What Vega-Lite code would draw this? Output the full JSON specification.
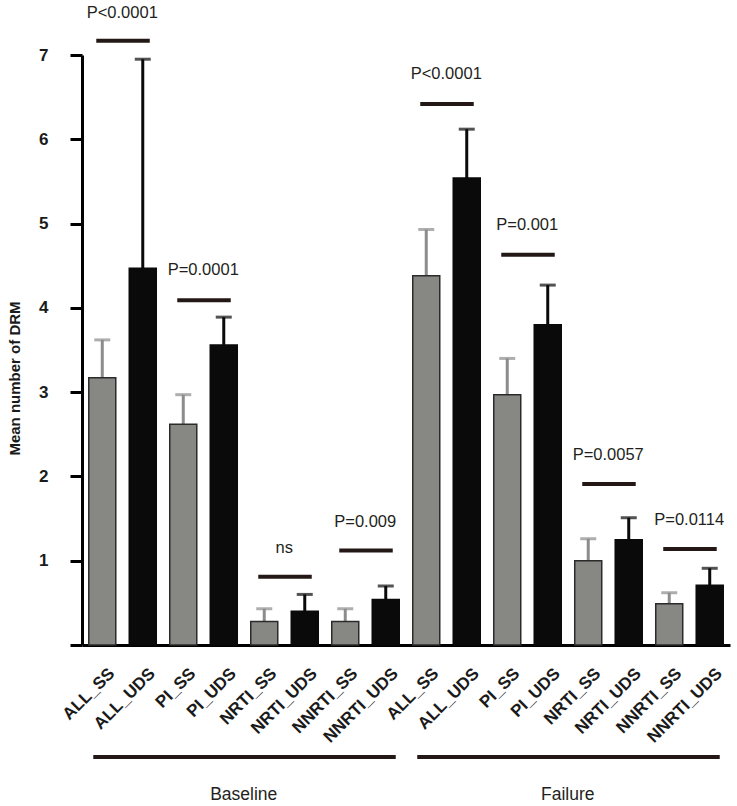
{
  "$schema": "https://vega.github.io/schema/vega-lite/v6.json",
  "width": 648,
  "height": 590,
  "autosize": {"type": "none"},
  "padding": {"left": 82, "top": 55, "right": 7, "bottom": 161},
  "background": "white",
  "config": {
    "view": {"stroke": null},
    "font": "Liberation Sans",
    "axis": {"grid": false}
  },
  "datasets": {
    "bars": [
      {"key": "B_ALL_SS", "period": "Baseline", "type": "SS", "mean": 3.17, "upper": 3.62},
      {"key": "B_ALL_UDS", "period": "Baseline", "type": "UDS", "mean": 4.47, "upper": 6.95},
      {"key": "B_PI_SS", "period": "Baseline", "type": "SS", "mean": 2.62, "upper": 2.97},
      {"key": "B_PI_UDS", "period": "Baseline", "type": "UDS", "mean": 3.56, "upper": 3.89},
      {"key": "B_NRTI_SS", "period": "Baseline", "type": "SS", "mean": 0.28, "upper": 0.43},
      {"key": "B_NRTI_UDS", "period": "Baseline", "type": "UDS", "mean": 0.40, "upper": 0.60},
      {"key": "B_NNRTI_SS", "period": "Baseline", "type": "SS", "mean": 0.28, "upper": 0.43},
      {"key": "B_NNRTI_UDS", "period": "Baseline", "type": "UDS", "mean": 0.54, "upper": 0.70},
      {"key": "F_ALL_SS", "period": "Failure", "type": "SS", "mean": 4.38, "upper": 4.93},
      {"key": "F_ALL_UDS", "period": "Failure", "type": "UDS", "mean": 5.54, "upper": 6.12},
      {"key": "F_PI_SS", "period": "Failure", "type": "SS", "mean": 2.97, "upper": 3.40},
      {"key": "F_PI_UDS", "period": "Failure", "type": "UDS", "mean": 3.80, "upper": 4.27},
      {"key": "F_NRTI_SS", "period": "Failure", "type": "SS", "mean": 1.00, "upper": 1.26},
      {"key": "F_NRTI_UDS", "period": "Failure", "type": "UDS", "mean": 1.25, "upper": 1.51},
      {"key": "F_NNRTI_SS", "period": "Failure", "type": "SS", "mean": 0.49, "upper": 0.62},
      {"key": "F_NNRTI_UDS", "period": "Failure", "type": "UDS", "mean": 0.71, "upper": 0.91}
    ],
    "sig": [
      {"a": "B_ALL_SS", "b": "B_ALL_UDS", "line": 7.17, "ly": 7.5, "label": "P<0.0001"},
      {"a": "B_PI_SS", "b": "B_PI_UDS", "line": 4.09, "ly": 4.45, "label": "P=0.0001"},
      {"a": "B_NRTI_SS", "b": "B_NRTI_UDS", "line": 0.81, "ly": 1.15, "label": "ns"},
      {"a": "B_NNRTI_SS", "b": "B_NNRTI_UDS", "line": 1.12, "ly": 1.46, "label": "P=0.009"},
      {"a": "F_ALL_SS", "b": "F_ALL_UDS", "line": 6.42, "ly": 6.78, "label": "P<0.0001"},
      {"a": "F_PI_SS", "b": "F_PI_UDS", "line": 4.63, "ly": 4.98, "label": "P=0.001"},
      {"a": "F_NRTI_SS", "b": "F_NRTI_UDS", "line": 1.91, "ly": 2.25, "label": "P=0.0057"},
      {"a": "F_NNRTI_SS", "b": "F_NNRTI_UDS", "line": 1.14, "ly": 1.48, "label": "P=0.0114"}
    ],
    "groups": [
      {"start": "B_ALL_SS", "end": "B_NNRTI_UDS", "mid": "B_PI_UDS", "line": -1.33, "ly": -1.78, "label": "Baseline"},
      {"start": "F_ALL_SS", "end": "F_NNRTI_UDS", "mid": "F_PI_UDS", "line": -1.33, "ly": -1.78, "label": "Failure"}
    ]
  },
  "layer": [
    {
      "data": {"name": "bars"},
      "mark": {"type": "rule", "strokeWidth": 3},
      "encoding": {
        "x": {
          "field": "key", "type": "nominal", "sort": null,
          "scale": {
            "domain": ["B_ALL_SS", "B_ALL_UDS", "B_PI_SS", "B_PI_UDS", "B_NRTI_SS", "B_NRTI_UDS", "B_NNRTI_SS", "B_NNRTI_UDS", "F_ALL_SS", "F_ALL_UDS", "F_PI_SS", "F_PI_UDS", "F_NRTI_SS", "F_NRTI_UDS", "F_NNRTI_SS", "F_NNRTI_UDS"],
            "paddingInner": 0.333, "paddingOuter": 0.167
          },
          "axis": {
            "title": null,
            "labelExpr": "substring(datum.label, 2)",
            "labelAngle": -45,
            "labelFontSize": 17,
            "labelFontWeight": "bold",
            "labelColor": "#1a1a1a",
            "labelPadding": 20,
            "labelOffset": 4,
            "labelBound": false,
            "labelOverlap": false,
            "ticks": false,
            "domainWidth": 3,
            "domainColor": "#000000"
          }
        },
        "y": {
          "field": "mean", "type": "quantitative",
          "scale": {"domain": [0, 7], "nice": false},
          "axis": {
            "title": "Mean number of DRM",
            "titleFontSize": 15,
            "titleFontWeight": "bold",
            "titleColor": "#1a1a1a",
            "titleX": -68,
            "titleY": 323,
            "titleAlign": "center",
            "titleBaseline": "middle",
            "values": [0, 1, 2, 3, 4, 5, 6, 7],
            "format": "d",
            "labelExpr": "datum.value == 0 ? '' : datum.label",
            "labelFontSize": 17,
            "labelFontWeight": "bold",
            "labelColor": "#1a1a1a",
            "labelPadding": 22,
            "tickSize": 12,
            "tickWidth": 3,
            "tickColor": "#000000",
            "domainWidth": 3,
            "domainColor": "#000000"
          }
        },
        "y2": {"field": "upper"},
        "color": {"condition": {"test": "datum.type == 'SS'", "value": "#8c8c8c"}, "value": "#0a0a0a"}
      }
    },
    {
      "data": {"name": "bars"},
      "mark": {"type": "tick", "thickness": 3, "size": 16},
      "encoding": {
        "x": {"field": "key", "type": "nominal"},
        "y": {"field": "upper", "type": "quantitative"},
        "color": {"condition": {"test": "datum.type == 'SS'", "value": "#8c8c8c"}, "value": "#0a0a0a"}
      }
    },
    {
      "data": {"name": "bars"},
      "mark": {"type": "bar", "strokeWidth": 1.5},
      "encoding": {
        "x": {"field": "key", "type": "nominal"},
        "y": {"field": "mean", "type": "quantitative"},
        "color": {"condition": {"test": "datum.type == 'SS'", "value": "#878783"}, "value": "#0a0a0a"},
        "stroke": {"condition": {"test": "datum.type == 'SS'", "value": "#2b2b2b"}, "value": "#0a0a0a"}
      }
    },
    {
      "data": {"name": "sig"},
      "mark": {"type": "rule", "strokeWidth": 4, "color": "#231815", "xOffset": -6, "x2Offset": 7},
      "encoding": {
        "x": {"field": "a", "type": "nominal"},
        "x2": {"field": "b"},
        "y": {"field": "line", "type": "quantitative"}
      }
    },
    {
      "data": {"name": "sig"},
      "mark": {"type": "text", "fontSize": 16.5, "color": "#231f20", "xOffset": 20, "baseline": "middle"},
      "encoding": {
        "x": {"field": "a", "type": "nominal"},
        "y": {"field": "ly", "type": "quantitative"},
        "text": {"field": "label"}
      }
    },
    {
      "data": {"name": "groups"},
      "mark": {"type": "rule", "strokeWidth": 4, "color": "#231815", "xOffset": -9, "x2Offset": 10},
      "encoding": {
        "x": {"field": "start", "type": "nominal"},
        "x2": {"field": "end"},
        "y": {"field": "line", "type": "quantitative"}
      }
    },
    {
      "data": {"name": "groups"},
      "mark": {"type": "text", "fontSize": 17.5, "color": "#231f20", "xOffset": 20, "baseline": "middle"},
      "encoding": {
        "x": {"field": "mid", "type": "nominal"},
        "y": {"field": "ly", "type": "quantitative"},
        "text": {"field": "label"}
      }
    }
  ]
}
